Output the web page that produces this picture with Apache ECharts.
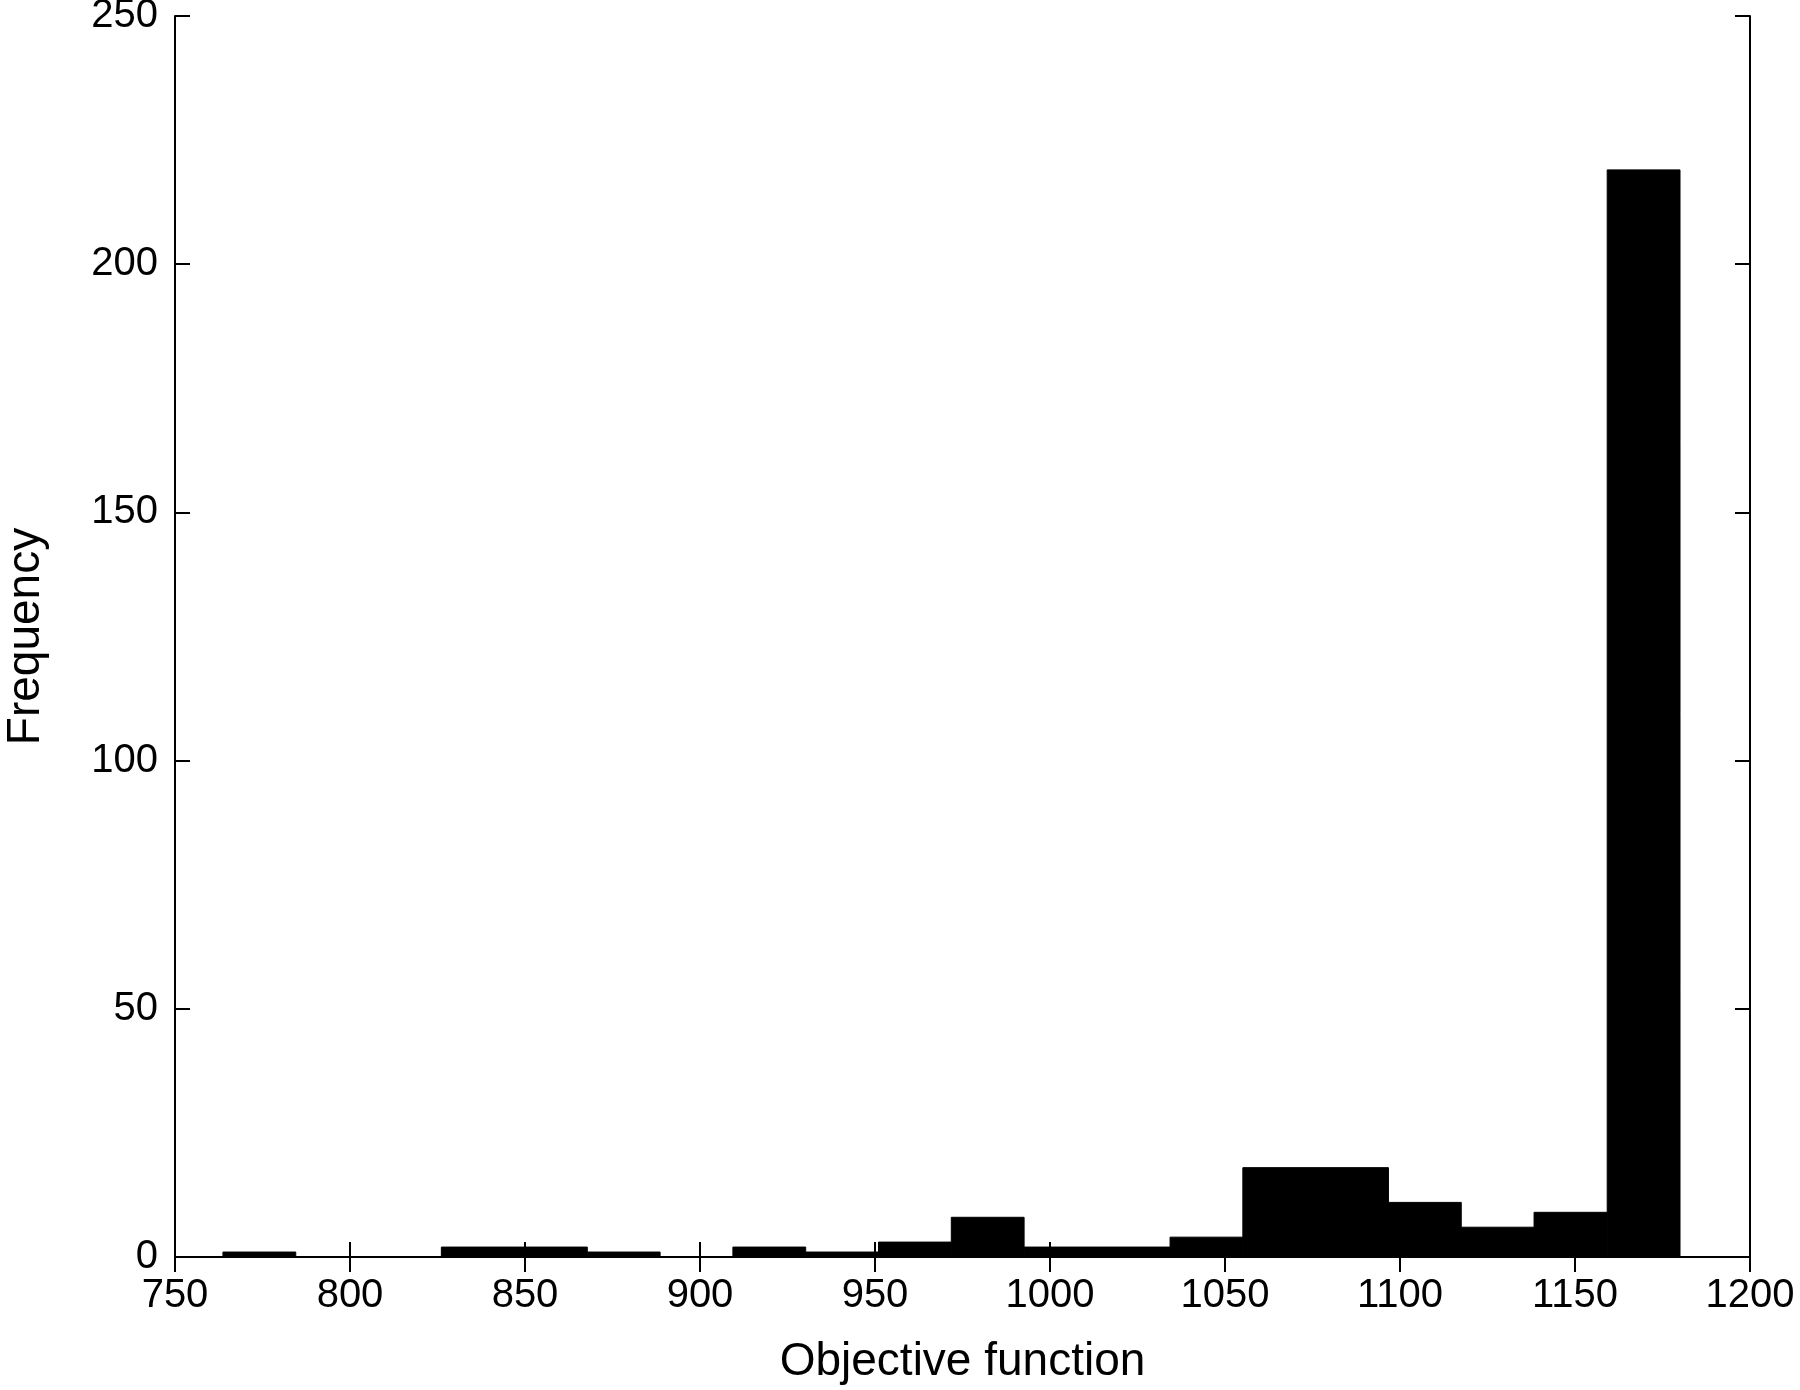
<!DOCTYPE html>
<html>
<head>
<meta charset="utf-8">
<script src="https://cdn.jsdelivr.net/npm/echarts@6/dist/echarts.min.js"></script>
<style>
html,body{margin:0;padding:0;background:#fff;}
#chart{width:1800px;height:1390px;}
</style>
</head>
<body>
<div id="chart"></div>
<script>
// Histogram bin edges and counts
const binEdges = [763.7, 784.5, 805.3, 826.1, 847.0, 867.8, 888.6, 909.4, 930.2, 951.0,
                  971.8, 992.6, 1013.5, 1034.3, 1055.1, 1075.9, 1096.7, 1117.5, 1138.3, 1159.2, 1180.0];
const counts = [1, 0, 0, 2, 2, 1, 0, 2, 1, 3, 8, 2, 2, 4, 18, 18, 11, 6, 9, 219];
const xTicks = [750, 800, 850, 900, 950, 1000, 1050, 1100, 1150, 1200];
const yTicks = [0, 50, 100, 150, 200, 250];
const xTitle = 'Objective function';
const yTitle = 'Frequency';

const bins = counts.map((c, i) => [binEdges[i], binEdges[i + 1], c]);

const FONT = '"Liberation Sans", Arial, Helvetica, sans-serif';
const axisLine = { show: true, lineStyle: { color: '#000', width: 2 } };
const tick = { show: true, inside: true, length: 15, lineStyle: { color: '#000', width: 2 } };
const plain = v => String(v);

const chart = echarts.init(document.getElementById('chart'), null, { renderer: 'canvas' });
chart.setOption({
  backgroundColor: '#fff',
  animation: false,
  grid: { left: 175, right: 50, top: 16, bottom: 133, containLabel: false, outerBoundsMode: 'none' },
  xAxis: [
    {
      type: 'value', position: 'bottom',
      min: xTicks[0], max: xTicks[xTicks.length - 1], interval: 50,
      axisLine: axisLine, axisTick: tick, splitLine: { show: false },
      axisLabel: { color: '#000', fontSize: 40, fontFamily: FONT, margin: 19, formatter: plain },
      name: xTitle, nameLocation: 'middle', nameGap: 82,
      nameTextStyle: { color: '#000', fontSize: 46, fontFamily: FONT }
    },
    {
      type: 'value', position: 'top',
      min: xTicks[0], max: xTicks[xTicks.length - 1], interval: 50,
      axisLine: axisLine, axisTick: tick, splitLine: { show: false },
      axisLabel: { show: false }
    }
  ],
  yAxis: [
    {
      type: 'value', position: 'left',
      min: yTicks[0], max: yTicks[yTicks.length - 1], interval: 50,
      axisLine: axisLine, axisTick: tick, splitLine: { show: false },
      axisLabel: { color: '#000', fontSize: 40, fontFamily: FONT, margin: 17, formatter: plain },
      name: yTitle, nameLocation: 'middle', nameGap: 126, nameRotate: 90,
      nameTextStyle: { color: '#000', fontSize: 46, fontFamily: FONT }
    },
    {
      type: 'value', position: 'right',
      min: yTicks[0], max: yTicks[yTicks.length - 1], interval: 50,
      axisLine: axisLine, axisTick: tick, splitLine: { show: false },
      axisLabel: { show: false }
    }
  ],
  series: [{
    type: 'custom',
    xAxisIndex: 0, yAxisIndex: 0,
    data: bins,
    renderItem: function (params, api) {
      const p0 = api.coord([api.value(0), 0]);
      const p1 = api.coord([api.value(1), api.value(2)]);
      return {
        type: 'rect',
        shape: { x: p0[0], y: p1[1], width: p1[0] - p0[0], height: p0[1] - p1[1] },
        style: { fill: '#000', stroke: '#000', lineWidth: 1 }
      };
    }
  }]
});
</script>
</body>
</html>
